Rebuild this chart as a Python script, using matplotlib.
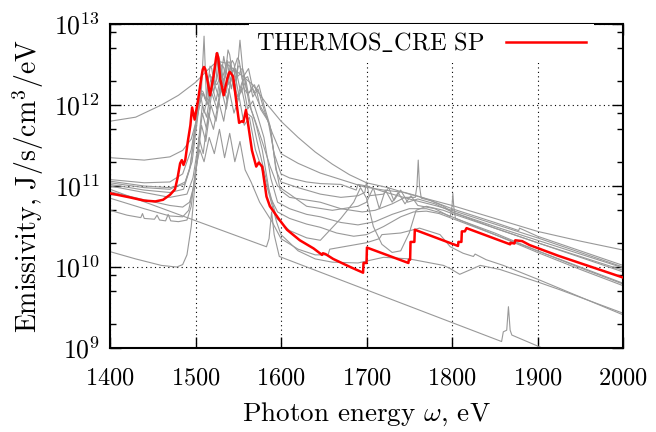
import matplotlib
matplotlib.use("Agg")
import matplotlib.pyplot as plt
import matplotlib.ticker as mticker
import numpy as np

plt.rcParams['font.family'] = 'serif'
plt.rcParams['font.serif'] = ['cmr10', 'DejaVu Serif']
plt.rcParams['mathtext.fontset'] = 'cm'
plt.rcParams['axes.formatter.use_mathtext'] = True

# emissivity spectra, stored as log10(J/s/cm^3/eV) against photon energy (eV)
red_E = [1400, 1423, 1440, 1453, 1462, 1470, 1476, 1479, 1482, 1484, 1486, 1488, 1491, 1494, 1496,
         1499, 1503, 1507, 1508.5, 1510, 1511.5, 1513, 1517, 1521, 1524, 1525, 1526.5, 1529, 1533,
         1537, 1539, 1540, 1541.5, 1544, 1548, 1551, 1554, 1556, 1559, 1562, 1566, 1571, 1574,
         1578, 1583, 1587, 1597, 1607, 1622, 1638, 1648, 1649, 1652, 1661, 1681, 1696, 1696.5,
         1700, 1700.5, 1749, 1749.5, 1751, 1751.5, 1756, 1756.5, 1807, 1807.5, 1811, 1811.5, 1815,
         1817, 1868, 1868.5, 1873, 1874, 1882, 1891, 1924, 2000]
red_lg = [10.91, 10.86, 10.82, 10.81, 10.83, 10.89, 10.96, 11.10, 11.28, 11.32, 11.26, 11.32, 11.55,
          11.75, 11.97, 11.82, 12.06, 12.35, 12.44, 12.47, 12.44, 12.36, 12.12, 12.35, 12.58, 12.64,
          12.59, 12.32, 12.12, 12.32, 12.39, 12.41, 12.39, 12.35, 12.02, 11.78, 11.80, 11.79, 11.94,
          11.73, 11.44, 11.24, 11.29, 11.24, 10.87, 10.75, 10.60, 10.46, 10.33, 10.23, 10.15, 10.17,
          10.16, 10.10, 10.00, 9.93, 10.05, 10.05, 10.24, 10.05, 10.09, 10.09, 10.31, 10.31, 10.46,
          10.26, 10.31, 10.31, 10.44, 10.44, 10.48, 10.28, 10.30, 10.29, 10.33, 10.32, 10.27, 10.14,
          9.87]

gray_E = [
    [1400, 1430, 1460, 1480, 1500, 1515, 1525, 1535, 1550, 1567, 1582, 1600, 1620, 1640, 1660,
     1680, 1700, 1725, 1750, 1775, 1800, 1850, 1900, 1950, 2000],
    [1400, 1440, 1470, 1485, 1495, 1502, 1505, 1507, 1509, 1511, 1513, 1515, 1517, 1519, 1521,
     1523, 1525, 1527, 1529, 1531, 1533, 1535, 1537, 1539, 1541, 1543, 1545, 1547, 1549, 1551,
     1553, 1555, 1557, 1559, 1561, 1564, 1567, 1575, 1583, 1590, 1600, 1620, 1646, 1670, 1697,
     1720, 1745, 1765, 1800, 1850, 1878, 1879, 1900, 1950, 2000],
    [1400, 1440, 1470, 1485, 1495, 1500, 1503, 1505, 1507, 1510, 1513, 1515, 1517, 1519, 1521,
     1524, 1526, 1528, 1530, 1533, 1536, 1538, 1540, 1542, 1545, 1548, 1550, 1552, 1554, 1557,
     1560, 1563, 1566, 1569, 1572, 1576, 1585, 1592, 1600, 1610, 1630, 1646, 1670, 1688, 1690,
     1700, 1720, 1750, 1780, 1800, 1850, 1900, 1950, 2000],
    [1400, 1440, 1470, 1488, 1496, 1502, 1505, 1507, 1509, 1512, 1515, 1517, 1519, 1522, 1525,
     1527, 1529, 1533, 1536, 1538, 1540, 1543, 1546, 1549, 1551, 1555, 1558, 1561, 1564, 1567,
     1570, 1573, 1580, 1588, 1594, 1600, 1620, 1646, 1670, 1690, 1698, 1700, 1703, 1720, 1726,
     1732, 1740, 1748, 1760, 1780, 1800, 1850, 1900, 1950, 2000],
    [1400, 1440, 1470, 1490, 1497, 1503, 1508, 1513, 1519, 1524, 1530, 1536, 1541, 1547, 1552,
     1556, 1562, 1568, 1574, 1580, 1587, 1593, 1599, 1610, 1646, 1670, 1695, 1710, 1730, 1745,
     1757, 1759, 1760.5, 1762, 1764, 1775, 1790, 1800, 1850, 1900, 1950, 2000],
    [1400, 1440, 1470, 1485, 1493, 1498, 1503, 1508, 1513, 1519, 1525, 1531, 1537, 1543, 1549,
     1555, 1561, 1567, 1573, 1580, 1588, 1596, 1610, 1630, 1646, 1670, 1690, 1710, 1730, 1750,
     1770, 1790, 1800, 1850, 1900, 1950, 2000],
    [1400, 1440, 1470, 1485, 1492, 1497, 1502, 1507, 1512, 1518, 1524, 1530, 1536, 1542, 1548,
     1554, 1560, 1566, 1572, 1580, 1588, 1596, 1610, 1630, 1646, 1665, 1685, 1700, 1720, 1740,
     1755, 1770, 1785, 1800, 1850, 1900, 1950, 2000],
    [1400, 1440, 1470, 1487, 1494, 1499, 1504, 1507, 1510, 1513, 1520, 1526, 1532, 1537, 1542,
     1547, 1553, 1559, 1565, 1571, 1578, 1586, 1595, 1610, 1630, 1646, 1670, 1685, 1693, 1700,
     1708, 1718, 1730, 1740, 1750, 1758, 1770, 1790, 1800, 1850, 1900, 1950, 2000],
    [1400, 1440, 1470, 1486, 1493, 1498, 1503, 1509, 1515, 1521, 1527, 1533, 1539, 1545, 1551,
     1557, 1563, 1570, 1578, 1587, 1596, 1610, 1630, 1660, 1690, 1700, 1708, 1715, 1722, 1730,
     1737, 1745, 1752, 1760, 1780, 1798, 1800, 1801, 1802, 1804, 1850, 1900, 1950, 2000],
    [1400, 1420, 1436, 1438, 1440, 1452, 1455, 1458, 1465, 1468, 1471, 1480, 1490, 1495, 1500,
     1505, 1510, 1516, 1522, 1528, 1534, 1540, 1546, 1552, 1558, 1565, 1575, 1590, 1600, 1620,
     1640, 1655, 1657, 1700, 1715, 1718, 1740, 1762, 1786, 1798, 1813, 1825, 1827, 1840, 1860,
     1900, 2000],
    [1400, 1430, 1460, 1478, 1485, 1490, 1495, 1500, 1504, 1509, 1515, 1521, 1527, 1533, 1539,
     1545, 1551, 1557, 1563, 1570, 1578, 1586, 1595, 1600, 1620, 1640, 1660, 1690, 1720, 1750,
     1775, 1790, 1798, 1809, 1820, 1833, 1856, 1899, 1926, 2000],
    [1400, 1583, 1586, 1589, 1592, 1598, 1858, 1860, 1864, 1866, 1868, 1870, 1910],
]
gray_lg = [
    [11.80, 11.85, 12.00, 12.12, 12.28, 12.44, 12.54, 12.52, 12.40, 12.25, 12.03, 11.80, 11.60,
     11.42, 11.27, 11.14, 11.04, 10.98, 10.90, 10.83, 10.76, 10.60, 10.44, 10.32, 10.21],
    [11.35, 11.32, 11.36, 11.44, 11.58, 11.85, 12.05, 12.14, 12.14, 12.08, 12.05, 12.10, 12.28,
     12.35, 12.33, 12.27, 12.25, 12.30, 12.45, 12.50, 12.46, 12.35, 12.30, 12.36, 12.50, 12.55,
     12.51, 12.40, 12.35, 12.37, 12.44, 12.45, 12.38, 12.22, 12.15, 12.17, 12.20, 12.00, 11.85,
     11.65, 11.40, 11.28, 11.16, 11.08, 10.99, 10.95, 10.92, 10.86, 10.72, 10.55, 10.45, 10.48,
     10.38, 10.20, 10.02],
    [11.08, 11.04, 11.05, 11.15, 11.45, 11.75, 12.00, 12.10, 12.06, 11.90, 12.05, 12.33, 12.38,
     12.28, 12.15, 12.30, 12.56, 12.57, 12.42, 12.30, 12.40, 12.53, 12.53, 12.40, 12.25, 12.35,
     12.48, 12.48, 12.36, 12.20, 12.15, 12.15, 12.22, 12.25, 12.15, 11.95, 11.80, 11.40, 11.15,
     11.10, 11.05, 11.03, 11.02, 10.95, 11.02, 11.00, 10.93, 10.84, 10.76, 10.70, 10.53, 10.36,
     10.18, 10.00],
    [11.04, 10.98, 10.96, 11.05, 11.30, 11.80, 12.08, 12.18, 12.16, 12.05, 12.30, 12.48, 12.45,
     12.25, 12.32, 12.44, 12.42, 12.25, 12.48, 12.68, 12.62, 12.40, 12.48, 12.58, 12.55, 12.30,
     12.33, 12.35, 12.25, 12.10, 12.15, 12.20, 11.95, 11.70, 11.20, 11.05, 10.98, 10.90, 10.86,
     10.88, 10.92, 11.05, 10.88, 10.90, 10.98, 10.82, 10.95, 10.80, 10.84, 10.78, 10.68, 10.50,
     10.33, 10.16, 9.99],
    [11.00, 10.92, 10.86, 10.90, 11.10, 11.50, 12.00, 11.85, 12.25, 12.05, 12.40, 12.15, 12.50,
     12.20, 12.80, 12.35, 12.45, 12.15, 12.25, 12.00, 11.75, 11.30, 10.95, 10.86, 10.80, 10.72,
     10.68, 10.70, 10.78, 10.86, 10.86, 11.00, 11.32, 11.00, 10.85, 10.82, 10.75, 10.68, 10.48,
     10.30, 10.12, 9.94],
    [10.93, 10.83, 10.76, 10.74, 10.80, 11.00, 11.45, 11.90, 11.70, 12.15, 11.95, 12.30, 12.05,
     12.40, 12.10, 12.30, 11.95, 12.05, 11.85, 11.60, 11.10, 10.80, 10.72, 10.65, 10.62, 10.55,
     10.52, 10.56, 10.65, 10.72, 10.72, 10.66, 10.62, 10.40, 10.20, 10.00, 9.80],
    [10.85, 10.72, 10.63, 10.62, 10.70, 10.95, 11.30, 11.75, 11.55, 12.00, 11.80, 12.20, 11.95,
     12.35, 12.05, 12.20, 11.90, 11.85, 11.55, 11.20, 10.85, 10.68, 10.60, 10.53, 10.49, 10.42,
     10.38, 10.40, 10.50, 10.62, 10.68, 10.69, 10.66, 10.60, 10.40, 10.18, 9.97, 9.77],
    [11.06, 11.00, 10.98, 11.02, 11.25, 11.70, 11.95, 12.20, 12.85, 12.00, 12.20, 12.65, 12.35,
     12.55, 12.20, 12.45, 12.15, 12.30, 11.95, 11.75, 11.45, 10.95, 10.60, 10.45, 10.36, 10.33,
     10.60, 10.80, 10.98, 10.85, 10.50, 10.28, 10.18, 10.20, 10.42, 10.70, 10.75, 10.70, 10.66,
     10.48, 10.30, 10.13, 9.96],
    [11.02, 10.95, 10.92, 10.96, 11.20, 11.55, 11.95, 12.15, 12.00, 12.30, 12.10, 12.60, 12.25,
     12.45, 12.10, 12.35, 12.00, 11.80, 11.55, 11.25, 11.00, 10.90, 10.75, 10.70, 10.75, 10.80,
     10.98, 10.72, 10.95, 10.80, 10.92, 10.78, 10.88, 10.76, 10.72, 10.62, 10.75, 10.91, 10.75,
     10.60, 10.42, 10.20, 9.99, 9.79],
    [10.70, 10.64, 10.61, 10.66, 10.60, 10.59, 10.64, 10.58, 10.57, 10.65, 10.57, 10.56, 10.58,
     10.75, 11.20, 11.45, 11.30, 11.60, 11.40, 11.70, 11.35, 11.65, 11.30, 11.55, 11.20, 11.05,
     10.80, 10.55, 10.35, 10.22, 10.15, 10.15, 10.22, 10.30, 10.35, 10.40, 10.42, 10.48, 10.40,
     10.25, 10.17, 10.13, 10.16, 10.09, 10.02, 9.85, 9.41],
    [10.19, 10.10, 10.02, 10.00, 10.03, 10.15, 10.50, 11.10, 11.60, 11.40, 11.90, 11.70, 12.05,
     11.80, 12.20, 11.90, 12.10, 11.75, 11.85, 11.45, 11.20, 10.90, 10.55, 10.40, 10.20, 10.10,
     10.06, 10.05, 10.12, 10.10, 10.05, 10.02, 9.98, 9.91, 9.96, 10.02, 9.97, 9.82, 9.72, 9.43],
    [10.96, 10.25, 10.35, 10.68, 10.40, 10.13, 9.08, 9.20, 9.22, 9.51, 9.22, 9.16, 8.98],
]

fig = plt.figure(figsize=(6.56, 4.32), dpi=100)
ax = fig.add_axes([0.1677, 0.1944, 0.7820, 0.7500])

for E, lg in zip(gray_E, gray_lg):
    ax.plot(E, 10.0 ** np.array(lg), color='#999999', lw=0.8, zorder=2,
            solid_joinstyle='round')
ax.plot(red_E, 10.0 ** np.array(red_lg), color='#ff0000', lw=1.8, zorder=3,
        solid_joinstyle='round', label=r'THERMOS$\_$CRE SP')

ax.set_yscale('log')
ax.set_xlim(1400, 2000)
ax.set_ylim(1e9, 1e13)
ax.set_xticks(np.arange(1400, 2001, 100))
ax.yaxis.set_major_locator(mticker.LogLocator(base=10, numticks=10))
ax.yaxis.set_minor_locator(mticker.LogLocator(base=10, subs=[2, 5, 8], numticks=10))
ax.yaxis.set_minor_formatter(mticker.NullFormatter())

ax.grid(True, which='major', color='black', linestyle=(0, (1, 3)), linewidth=0.8, zorder=1)
ax.tick_params(which='both', direction='in', top=True, right=True, width=1)
ax.tick_params(which='major', length=8)
ax.tick_params(which='minor', length=4)
ax.tick_params(axis='x', pad=14, labelsize=17.5)
ax.tick_params(axis='y', pad=7, labelsize=18.5)
for s in ax.spines.values():
    s.set_linewidth(1.5)

ax.set_xlabel(r'Photon energy $\omega$, eV', fontsize=19.5, labelpad=8)
ax.set_ylabel(r'Emissivity, J/s/cm$^3$/eV', fontsize=20, labelpad=6)

leg = ax.legend(loc='upper right', bbox_to_anchor=(0.943, 1.0), fontsize=17.5, markerfirst=False,
                handlelength=3.3, handletextpad=0.9, borderaxespad=0.0, borderpad=0.3,
                fancybox=False, framealpha=1.0, edgecolor='none', facecolor='white')
leg.set_zorder(5)

fig.savefig('out.png', dpi=100)
